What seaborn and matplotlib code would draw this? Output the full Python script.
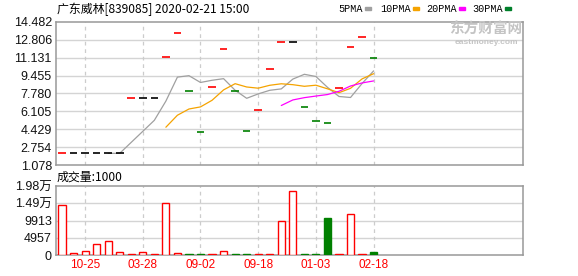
import numpy as np
import pandas as pd
import matplotlib
matplotlib.use("Agg")
import matplotlib.pyplot as plt
from matplotlib.patches import Rectangle
import seaborn as sns

# ---------------- data ----------------
title = "广东威林[839085] 2020-02-21 15:00"
close = [2.17, 2.17, 2.17, 2.17, 2.17, 2.17, 7.33, 7.33, 7.33, 11.17,
         13.42, 8.01, 4.14, 8.36, 11.92, 7.99, 4.24, 6.20, 10.05, 12.58,
         12.58, 6.49, 5.17, 4.99, 8.27, 12.11, 13.05, 11.08]
volume = [14300, 480, 1240, 3270, 4130, 770, 200, 770, 200, 15080,
          480, 200, 200, 200, 1160, 200, 200, 200, 200, 9860,
          18270, 250, 250, 10530, 200, 11890, 200, 750]
ma_windows = [5, 10, 20, 30]
ma_names = ["5PMA", "10PMA", "20PMA", "30PMA"]
price_tick_labels = ["1.078", "2.754", "4.429", "6.105", "7.780",
                     "9.455", "11.131", "12.806", "14.482"]
vol_ticks = [0, 4957, 9913, 14870, 19826]
vol_tick_labels = ["0", "4957", "9913", "1.49万", "1.98万"]
x_tick_pos = [2, 7, 12, 17, 22, 27]
x_tick_labels = ["10-25", "03-28", "09-02", "09-18", "01-03", "02-18"]
vol_title = "成交量:1000"

# ---------------- style ----------------
sns.set_theme(style="white")
plt.rcParams["font.family"] = ["Liberation Sans", "Noto Sans CJK SC", "DejaVu Sans"]

RED = "#ff0000"
GREEN = "#008000"
BLACK = "#000000"
MA_COLORS = ["#a0a0a0", "#f5a300", "#ff00ff", "#007f2a"]
GRID = "#d4d4d4"
VGRID = "#cccccc"
SPINE = "#999999"

W, H = 578, 276
fig = plt.figure(figsize=(W / 100, H / 100), dpi=100)

def axrect(x0, y0, x1, y1):
    return [x0 / W, 1 - y1 / H, (x1 - x0) / W, (y1 - y0) / H]

ax = fig.add_axes(axrect(56, 22, 522.5, 165))
axv = fig.add_axes(axrect(56, 186, 522.5, 255))

df = pd.DataFrame({"idx": np.arange(len(close)), "close": close, "volume": volume})
prev = df["close"].shift(1)
cand_colors = [RED if (p != p or c > p) else (GREEN if c < p else BLACK)
               for c, p in zip(df["close"], prev)]
vol_up = [not (p == p and c < p) for c, p in zip(df["close"], prev)]

xlim = (-0.52, 39.9)

# ---------------- price panel ----------------
price_ticks = [float(s) for s in price_tick_labels]
ax.set_ylim(price_ticks[0], price_ticks[-1])
ax.set_xlim(*xlim)
ax.set_yticks(price_ticks)
ax.set_yticklabels(price_tick_labels)
ax.set_xticks([])
for t in price_ticks[1:-1]:
    ax.axhline(t, color=GRID, lw=1.0, zorder=0)
for xp in x_tick_pos:
    ax.axvline(xp, color=VGRID, lw=0.9, ls=(0, (3, 3)), zorder=0)

ax.hlines(df["close"], df["idx"] - 0.33, df["idx"] + 0.33,
          colors=cand_colors, lw=1.2, zorder=3)

for w, col in zip(ma_windows, MA_COLORS):
    ma = df["close"].rolling(w).mean()
    if ma.notna().any():
        sns.lineplot(x=df["idx"], y=ma, ax=ax, color=col, lw=0.9, zorder=2)
ax.set_xlabel("")
ax.set_ylabel("")

# ---------------- volume panel ----------------
axv.set_xlim(*xlim)
axv.set_ylim(0, vol_ticks[-1])
axv.set_yticks(vol_ticks)
axv.set_yticklabels(vol_tick_labels)
axv.set_xticks(x_tick_pos)
axv.set_xticklabels(x_tick_labels, color=RED, fontsize=8.5)
for t in vol_ticks[1:-1]:
    axv.axhline(t, color=GRID, lw=1.0, zorder=0)
for xp in x_tick_pos:
    axv.axvline(xp, color=VGRID, lw=0.9, ls=(0, (3, 3)), zorder=0)

face = ["white" if u else GREEN for u in vol_up]
edge = [RED if u else GREEN for u in vol_up]
axv.bar(df["idx"], df["volume"], width=0.62, color=face, edgecolor=edge,
        linewidth=1.0, zorder=3)

for a in (ax, axv):
    for s in a.spines.values():
        s.set_color(SPINE)
        s.set_linewidth(1.1)
    a.tick_params(axis="both", length=0, pad=3, labelsize=9, colors="#111111")
axv.tick_params(axis="x", colors=RED, labelcolor=RED, pad=3, labelsize=8.5)
for lab in axv.get_xticklabels():
    lab.set_color(RED)

# ---------------- texts ----------------
fig.text(57 / W, 1 - 9 / H, title, fontsize=8.6, va="center", ha="left",
         color="#000000", family=["Noto Sans CJK SC", "DejaVu Sans"])
fig.text(57 / W, 1 - 177 / H, vol_title, fontsize=8.6, va="center", ha="left",
         color="#000000", family=["Noto Sans CJK SC", "DejaVu Sans"])

legend_x = [338, 380, 426, 472]
square_x = [365, 413, 459, 505]
for name, lx, sx, col in zip(ma_names, legend_x, square_x, MA_COLORS):
    fig.text(lx / W, 1 - 9 / H, name, fontsize=7.3, va="center", ha="left",
             color="#000000", family=["Liberation Mono", "DejaVu Sans Mono"])
    fig.patches.append(Rectangle((sx / W, 1 - 10 / H), 6 / W, 3 / H,
                                 transform=fig.transFigure, color=col,
                                 figure=fig))

# watermark
fig.text(486 / W, 1 - 29 / H, "东方财富网", fontsize=10.5, va="center", ha="center",
         color="#c4c4c4", family=["Noto Sans CJK SC", "DejaVu Sans"], fontweight="bold")
fig.text(486 / W, 1 - 42.5 / H, "eastmoney.com", fontsize=6, va="center", ha="center",
         color="#c4c4c4", fontweight="bold")

fig.savefig("out.png", dpi=100)
